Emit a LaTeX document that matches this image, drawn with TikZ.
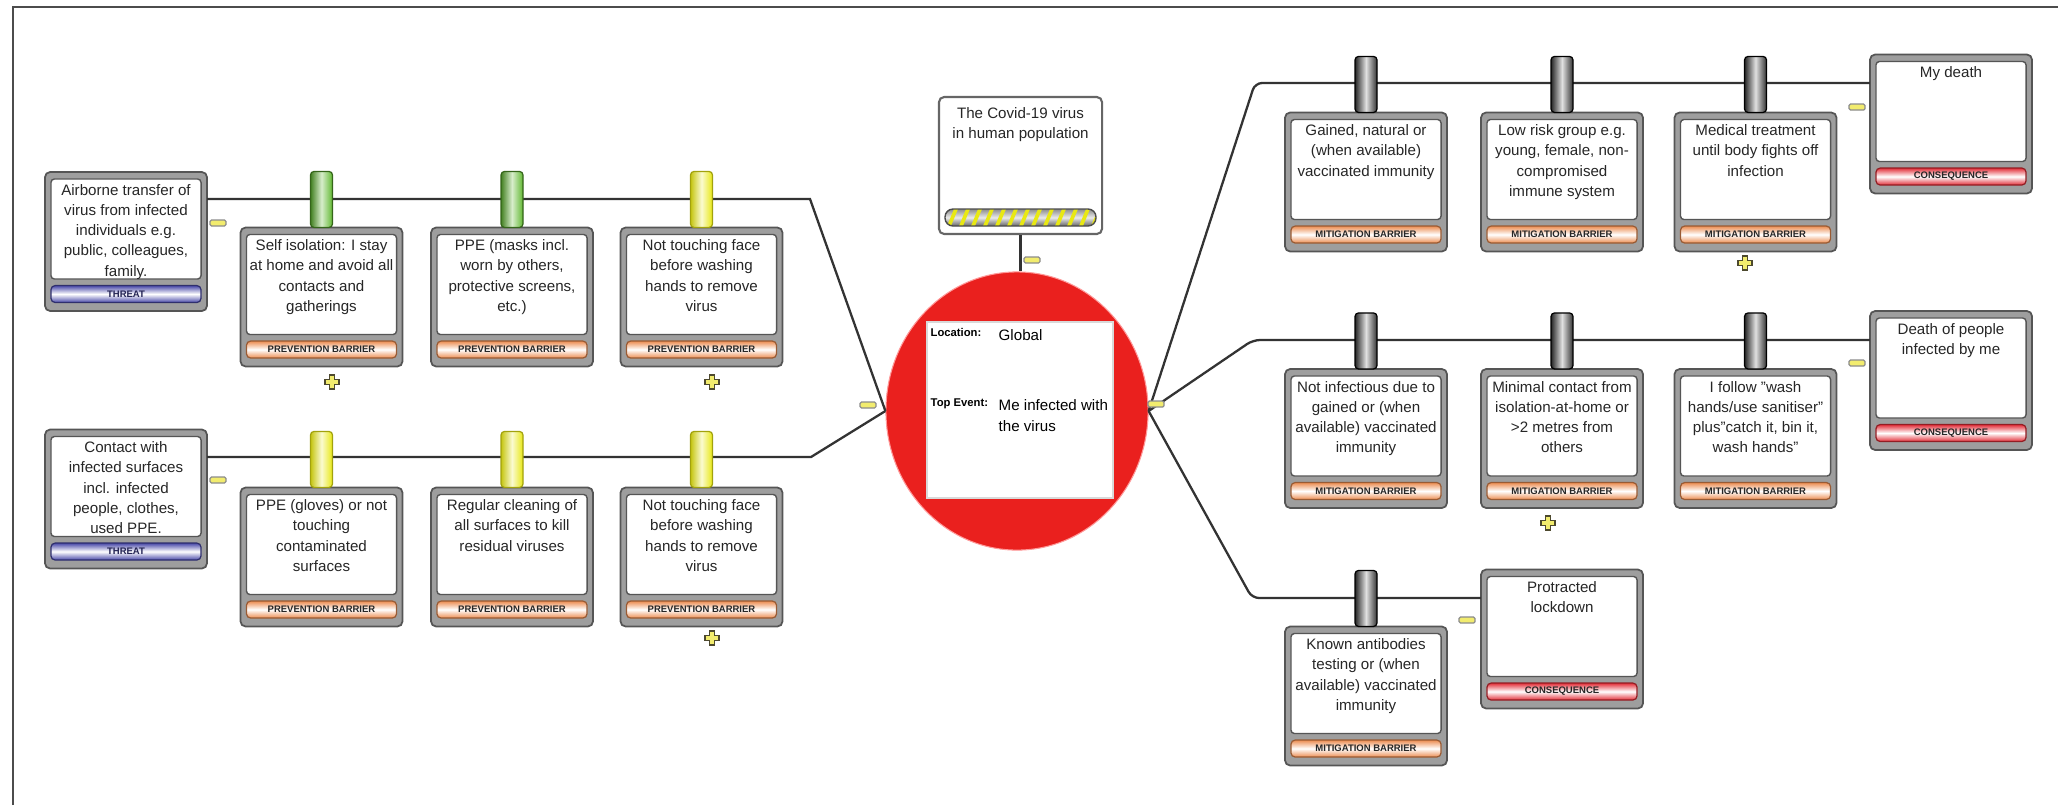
\documentclass[tikz,border=0pt]{standalone}
\usepackage{fontspec}
\setmainfont{Liberation Sans}
\usetikzlibrary{shapes.geometric}
\definecolor{frameGray}{RGB}{158,158,158}
\definecolor{edgeGray}{RGB}{85,85,85}
\definecolor{barOrange}{RGB}{236,140,80}
\definecolor{barBlue}{RGB}{72,72,168}
\definecolor{barRed}{RGB}{226,46,56}
\definecolor{eventRed}{RGB}{234,32,30}
\definecolor{signYellow}{RGB}{242,236,110}
\definecolor{pilGreen}{RGB}{96,184,48}
\definecolor{pilYellow}{RGB}{232,232,20}

\newcommand{\bowbox}[5]{%
  \node[outerbox] (#1) at (#2) {};
  \node[innerbox, anchor=north] (#1in) at ([yshift=-0.07cm]#1.north) {};
  \node[boxtext, anchor=north] (#1txt) at ([yshift=-0.045cm]#1in.north) {#3};
  \node[#4, anchor=south] (#1bar) at ([yshift=0.085cm]#1.south) {#5};
}

\tikzset{
  outerbox/.style={rectangle, rounded corners=1.5pt, fill=frameGray, draw=edgeGray, line width=0.5pt,
    minimum width=1.62cm, minimum height=1.39cm, inner sep=0pt, outer sep=0pt},
  innerbox/.style={rectangle, rounded corners=1pt, fill=white, draw=edgeGray, line width=0.4pt,
    minimum width=1.50cm, minimum height=1.00cm, inner sep=0pt, outer sep=0pt},
  boxtext/.style={align=center, font=\fontsize{4.3}{5.75}\selectfont, inner sep=0pt, text=black!85},
  tagbar/.style={rectangle, rounded corners=1.2pt, draw=#1!65!black, line width=0.35pt,
    top color=#1, bottom color=#1, middle color=white, minimum width=1.50cm, minimum height=0.17cm,
    inner sep=0pt, outer sep=0pt, font=\bfseries\fontsize{2.7}{3}\selectfont},
  prevbar/.style={tagbar=barOrange, text=black!85},
  mitbar/.style={tagbar=barOrange, text=black!85},
  threatbar/.style={tagbar=barBlue, text=barBlue!50!black},
  consbar/.style={tagbar=barRed, text=black!85},
  pillar/.style={rectangle, rounded corners=1pt, minimum width=0.22cm, minimum height=0.56cm,
    inner sep=0pt, outer sep=0pt, anchor=south, line width=0.35pt},
  greenpil/.style={pillar, draw=pilGreen!55!black, left color=pilGreen!70!black, right color=pilGreen, middle color=pilGreen!25!white},
  yellowpil/.style={pillar, draw=pilYellow!70!black, left color=pilYellow!85!black, right color=pilYellow, middle color=pilYellow!20!white},
  greypil/.style={pillar, draw=black, left color=black!85, right color=black!80, middle color=black!12},
  hazbox/.style={rectangle, rounded corners=1.5pt, fill=white, draw=black!60, line width=0.6pt,
    minimum width=1.63cm, minimum height=1.37cm, inner sep=0pt},
  link/.style={draw=black!80, line width=0.65pt},
  evlabel/.style={font=\bfseries\fontsize{3.2}{4}\selectfont, inner sep=0pt},
  evtext/.style={font=\fontsize{4.3}{5.9}\selectfont, inner sep=0pt, align=left},
  minusmark/.pic={\draw[fill=signYellow, draw=black!45, line width=0.35pt, rounded corners=0.4pt] (-8,-3) rectangle (8,3);},
  plusmark/.pic={\draw[fill=signYellow, draw=black!60!olive, line width=0.4pt] (-2.5,-7) -- (2.5,-7) -- (2.5,-2.5) -- (7,-2.5) -- (7,2.5) -- (2.5,2.5) -- (2.5,7) -- (-2.5,7) -- (-2.5,2.5) -- (-7,2.5) -- (-7,-2.5) -- (-2.5,-2.5) -- cycle;}
}

\begin{document}
\begin{tikzpicture}[x=0.01cm, y=-0.01cm]
  \useasboundingbox (0,0) rectangle (2058,805);
  \draw[black!70, line width=0.5pt] (13,805) -- (13,7) -- (2058,7);

  \node[ellipse, fill=eventRed, draw=red!40, line width=0.3pt, minimum width=2.62cm, minimum height=2.78cm] (topev) at (1017,411) {};
  \node[rectangle, fill=white, draw=black!15, minimum width=1.86cm, minimum height=1.76cm, inner sep=0pt] (evbox) at (1020,410) {};
  \node[evlabel, anchor=base west] (loclab) at (930,336) {Location:};
  \node[evtext, anchor=base west] (locval) at (998,340) {Global};
  \node[evlabel, anchor=base west] (toplab) at (930,406) {Top Event:};
  \node[evtext, anchor=north west] (topval) at (998,399) {Me infected with\\the virus};

  \node[hazbox] (haz) at (1020.5,165.5) {};
  \node[boxtext, anchor=north] (haztxt) at ([yshift=-0.11cm]haz.north) {The Covid-19 virus\\in human population};
  \begin{scope}
    \clip[rounded corners=0.08cm] (945,209) rectangle (1096,226);
    \shade[top color=black!45, bottom color=black!60, middle color=black!8] (945,209) rectangle (1096,226);
    \foreach \s in {0,...,12}
      \fill[pilYellow] ({947+\s*12},226) -- ++(4,0) -- ++(7,-17) -- ++(-4,0) -- cycle;
  \end{scope}
  \draw[black!70, line width=0.4pt, rounded corners=0.08cm] (945,209) rectangle (1096,226);

  \bowbox{t1}{126,241.5}{Airborne transfer of\\virus from infected\\individuals e.g.\\public, colleagues,\\family.}{threatbar}{THREAT}
  \bowbox{t2}{126,499}{Contact with\\infected surfaces\\incl. infected\\people, clothes,\\used PPE.}{threatbar}{THREAT}
  \bowbox{c1}{1951,124}{My death}{consbar}{CONSEQUENCE}
  \bowbox{c2}{1951,380.5}{Death of people\\infected by me}{consbar}{CONSEQUENCE}
  \bowbox{c3}{1562,639}{Protracted\\lockdown}{consbar}{CONSEQUENCE}

  \coordinate (l1) at (810,199);
  \coordinate (l2) at (811,457);
  \coordinate (r1) at (1255,83);
  \coordinate (r2) at (1253,340);
  \coordinate (r3) at (1252,598);
  \draw[link] (t1.east |- l1) -- (l1) -- (topev.west);
  \draw[link] (t2.east |- l2) -- (l2) -- (topev.west);
  \draw[link, rounded corners=2pt] (topev.east) -- (r1) -- (r1 -| c1.west);
  \draw[link, rounded corners=2pt] (topev.east) -- (r2) -- (r2 -| c2.west);
  \draw[link, rounded corners=2pt] (topev.east) -- (r3) -- (r3 -| c3.west);
  \draw[link] (haz.south) -- (haz.south |- topev.north);

  \bowbox{p1}{321.5,297}{Self isolation: I stay\\at home and avoid all\\contacts and\\gatherings}{prevbar}{PREVENTION BARRIER}
  \bowbox{p2}{512,297}{PPE (masks incl.\\worn by others,\\protective screens,\\etc.)}{prevbar}{PREVENTION BARRIER}
  \bowbox{p3}{701.5,297}{Not touching face\\before washing\\hands to remove\\virus}{prevbar}{PREVENTION BARRIER}
  \bowbox{p4}{321.5,557}{PPE (gloves) or not\\touching\\contaminated\\surfaces}{prevbar}{PREVENTION BARRIER}
  \bowbox{p5}{512,557}{Regular cleaning of\\all surfaces to kill\\residual viruses}{prevbar}{PREVENTION BARRIER}
  \bowbox{p6}{701.5,557}{Not touching face\\before washing\\hands to remove\\virus}{prevbar}{PREVENTION BARRIER}
  \node[greenpil] (p1pil) at (p1.north) {};
  \node[greenpil] (p2pil) at (p2.north) {};
  \node[yellowpil] (p3pil) at (p3.north) {};
  \node[yellowpil] (p4pil) at (p4.north) {};
  \node[yellowpil] (p5pil) at (p5.north) {};
  \node[yellowpil] (p6pil) at (p6.north) {};

  \bowbox{m1}{1366,182}{Gained, natural or\\(when available)\\vaccinated immunity}{mitbar}{MITIGATION BARRIER}
  \bowbox{m2}{1562,182}{Low risk group e.g.\\young, female, non-\\compromised\\immune system}{mitbar}{MITIGATION BARRIER}
  \bowbox{m3}{1755.5,182}{Medical treatment\\until body fights off\\infection}{mitbar}{MITIGATION BARRIER}
  \bowbox{m4}{1366,438.5}{Not infectious due to\\gained or (when\\available) vaccinated\\immunity}{mitbar}{MITIGATION BARRIER}
  \bowbox{m5}{1562,438.5}{Minimal contact from\\isolation-at-home or\\>2 metres from\\others}{mitbar}{MITIGATION BARRIER}
  \bowbox{m6}{1755.5,438.5}{I follow "wash\\hands/use sanitiser"\\plus"catch it, bin it,\\wash hands"}{mitbar}{MITIGATION BARRIER}
  \bowbox{m7}{1366,696}{Known antibodies\\testing or (when\\available) vaccinated\\immunity}{mitbar}{MITIGATION BARRIER}
  \node[greypil] (m1pil) at (m1.north) {};
  \node[greypil] (m2pil) at (m2.north) {};
  \node[greypil] (m3pil) at (m3.north) {};
  \node[greypil] (m4pil) at (m4.north) {};
  \node[greypil] (m5pil) at (m5.north) {};
  \node[greypil] (m6pil) at (m6.north) {};
  \node[greypil] (m7pil) at (m7.north) {};

  \pic at (218,223) {minusmark};
  \pic at (218,480) {minusmark};
  \pic at (868,405) {minusmark};
  \pic at (1032,260) {minusmark};
  \pic at (1156,404) {minusmark};
  \pic at (1857,107) {minusmark};
  \pic at (1857,363) {minusmark};
  \pic at (1467,620) {minusmark};

  \pic at (332,382) {plusmark};
  \pic at (712,382) {plusmark};
  \pic at (712,638) {plusmark};
  \pic at (1745,263) {plusmark};
  \pic at (1548,523) {plusmark};
\end{tikzpicture}
\end{document}
